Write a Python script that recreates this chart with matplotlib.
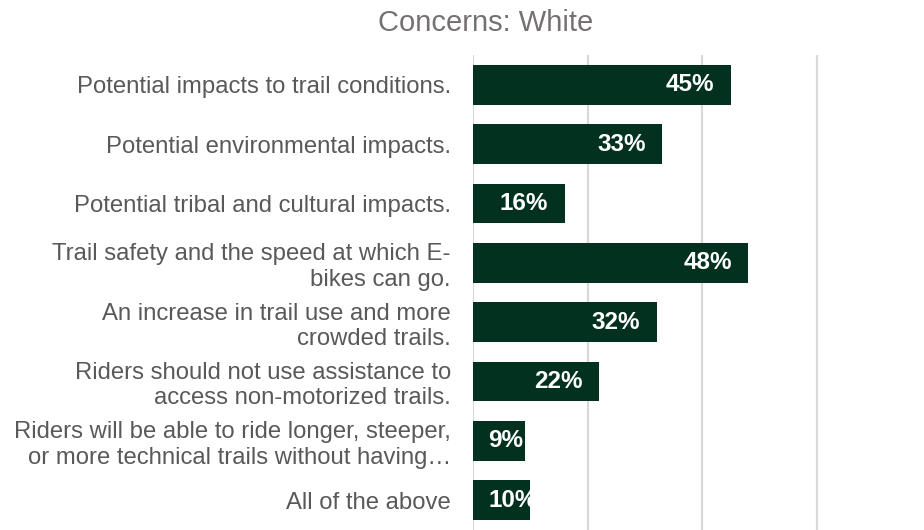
import matplotlib.pyplot as plt

plt.rcParams['font.family'] = ['Liberation Sans', 'DejaVu Sans']

# data
categories = [
    'Potential impacts to trail conditions.',
    'Potential environmental impacts.',
    'Potential tribal and cultural impacts.',
    'Trail safety and the speed at which E-\nbikes can go.',
    'An increase in trail use and more\ncrowded trails.',
    'Riders should not use assistance to\naccess non-motorized trails.',
    'Riders will be able to ride longer, steeper,\nor more technical trails without having…',
    'All of the above',
]
values = [0.45, 0.33, 0.16, 0.48, 0.32, 0.22, 0.09, 0.10]
value_labels = ['45%', '33%', '16%', '48%', '32%', '22%', '9%', '10%']

bar_color = '#02311F'
text_grey = '#595959'

fig = plt.figure(figsize=(9.24, 5.30), dpi=100)
ax = fig.add_axes([0.512, 0.0, 0.484, 0.896])

pos = list(range(len(categories)))
bars = ax.barh(pos, values, height=0.67, color=bar_color, zorder=3)

ax.set_xlim(0, 0.78)
ax.set_ylim(len(categories) - 0.5, -0.5)
ax.set_xticks([0, 0.2, 0.4, 0.6])
ax.tick_params(axis='x', length=0, labelbottom=False)
ax.grid(axis='x', color='#D9D9D9', linewidth=1.6, zorder=0)
for s in ax.spines.values():
    s.set_visible(False)

ax.set_yticks(pos)
ax.set_yticklabels(categories, fontsize=17.2, color=text_grey, linespacing=1.2)
ax.tick_params(axis='y', length=0, pad=16)

# value labels inside bar ends
for b, v, lab in zip(bars, values, value_labels):
    y = b.get_y() + b.get_height() / 2
    if v < 0.12:
        t = ax.annotate(lab, (0, y), xytext=(11, 0), textcoords='offset points',
                        ha='left', va='center', color='white', fontsize=17.5,
                        fontweight='bold', zorder=4)
    else:
        t = ax.annotate(lab, (v, y), xytext=(-12, 0), textcoords='offset points',
                        ha='right', va='center', color='white', fontsize=17.5,
                        fontweight='bold', zorder=4)
    t.set_clip_path(b)

fig.text(0.526, 0.956, 'Concerns: White', ha='center', va='center',
         fontsize=21, color='#767171')

fig.savefig('out.png', dpi=100)
